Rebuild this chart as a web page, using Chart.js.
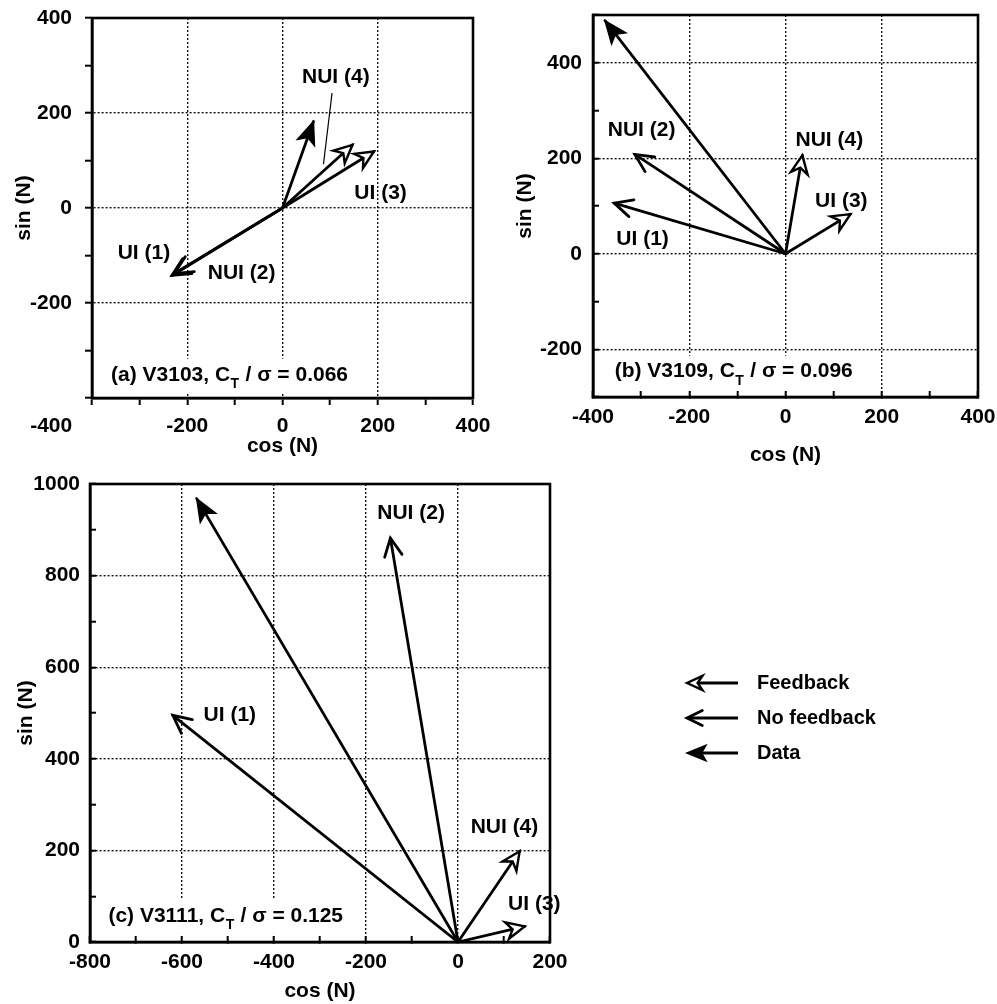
<!DOCTYPE html>
<html>
<head>
<meta charset="utf-8">
<script src="https://cdn.jsdelivr.net/npm/chart.js@4.4.1/dist/chart.umd.min.js"></script>
<style>
  html, body { margin: 0; padding: 0; background: #fff; }
  body { width: 997px; height: 1004px; position: relative; overflow: hidden; }
  canvas { position: absolute; }
</style>
</head>
<body>
<canvas id="panelA" width="500" height="470" style="left:0px;top:0px"></canvas>
<canvas id="panelB" width="497" height="475" style="left:500px;top:0px"></canvas>
<canvas id="panelC" width="997" height="534" style="left:0px;top:470px"></canvas>
<script>
// ---------- vector end points, cos (N) and sin (N) ----------
// (a) V3103
const aDataCos = [65];
const aDataSin = [182];
const aFeedbackCos = [192, 147];        // UI (3), NUI (4)
const aFeedbackSin = [119, 133];
const aNoFeedbackCos = [-232, -227];    // UI (1), NUI (2)
const aNoFeedbackSin = [-142, -138];

// (b) V3109
const bDataCos = [-375];
const bDataSin = [488];
const bFeedbackCos = [135, 35];         // UI (3), NUI (4)
const bFeedbackSin = [83, 206];
const bNoFeedbackCos = [-356, -313];    // UI (1), NUI (2)
const bNoFeedbackSin = [106, 208];

// (c) V3111
const cDataCos = [-568];
const cDataSin = [968];
const cFeedbackCos = [145, 134];        // UI (3), NUI (4)
const cFeedbackSin = [34, 198];
const cNoFeedbackCos = [-620, -147];    // UI (1), NUI (2)
const cNoFeedbackSin = [495, 882];

// ---------- vector names and where they are written (axis units) ----------
const vectorNames = ['UI (1)', 'NUI (2)', 'UI (3)', 'NUI (4)'];
const aNameCos = [-291, -86, 206, 112];
const aNameSin = [-95, -138, 32, 275];
const bNameCos = [-297, -299, 116, 91];
const bNameSin = [31, 258, 111, 237];
const cNameCos = [-496, -102, 166, 101];
const cNameSin = [496, 936, 83, 250];

// leader from the NUI (4) name to its vector in (a)
const aLeaderCos = [104, 86];
const aLeaderSin = [242, 92];

// ---------- run captions ----------
const captionRun = ['(a) V3103, C', '(b) V3109, C', '(c) V3111, C'];
const captionRatio = [' / σ = 0.066', ' / σ = 0.096', ' / σ = 0.125'];
const captionCos = [-360, -355, -760];
const captionSin = [-351, -247, 57];

// ---------- axis ranges and labelled ticks ----------
const aCosTicks = [-400, -200, 0, 200, 400];
const aSinTicks = [-200, 0, 200, 400];
const bCosTicks = [-400, -200, 0, 200, 400];
const bSinTicks = [-200, 0, 200, 400];
const cCosTicks = [-800, -600, -400, -200, 0, 200];
const cSinTicks = [0, 200, 400, 600, 800, 1000];

const legendNames = ['Feedback', 'No feedback', 'Data'];

// ---------- drawing helpers ----------
const FAMILY = "'Liberation Sans', Arial, Helvetica, sans-serif";
const INK = '#000';

function drawHead(ctx, tip, tail, style, len) {
  const back = Math.atan2(tail.y - tip.y, tail.x - tip.x);
  const pt = (a, l) => ({ x: tip.x + l * Math.cos(a), y: tip.y + l * Math.sin(a) });
  ctx.save();
  ctx.lineJoin = 'miter';
  ctx.lineCap = 'round';
  ctx.strokeStyle = INK;
  if (style === 'noFeedback') {
    const h = 26 * Math.PI / 180;
    const b1 = pt(back + h, len), b2 = pt(back - h, len);
    ctx.lineWidth = 2.8;
    ctx.beginPath();
    ctx.moveTo(b1.x, b1.y); ctx.lineTo(tip.x, tip.y); ctx.lineTo(b2.x, b2.y);
    ctx.stroke();
  } else if (style === 'feedback') {
    const h = 25 * Math.PI / 180;
    const b1 = pt(back + h, len), b2 = pt(back - h, len), n = pt(back, len * 0.62);
    ctx.lineWidth = 2.4;
    ctx.fillStyle = '#fff';
    ctx.beginPath();
    ctx.moveTo(tip.x, tip.y); ctx.lineTo(b1.x, b1.y); ctx.lineTo(n.x, n.y); ctx.lineTo(b2.x, b2.y);
    ctx.closePath();
    ctx.fill(); ctx.stroke();
  } else {
    const h = 22 * Math.PI / 180;
    const b1 = pt(back + h, len * 1.2), b2 = pt(back - h, len * 1.2), n = pt(back, len * 0.85);
    ctx.lineWidth = 1.5;
    ctx.fillStyle = INK;
    ctx.beginPath();
    ctx.moveTo(tip.x, tip.y); ctx.lineTo(b1.x, b1.y); ctx.lineTo(n.x, n.y); ctx.lineTo(b2.x, b2.y);
    ctx.closePath();
    ctx.fill(); ctx.stroke();
  }
  ctx.restore();
}

function vectors(cosArr, sinArr, style) {
  return cosArr.map((c, i) => ({
    data: [{ x: 0, y: 0 }, { x: c, y: sinArr[i] }],
    headStyle: style,
    showLine: true,
    borderColor: INK,
    borderWidth: 2.8,
    pointRadius: 0,
    pointHoverRadius: 0,
    borderCapStyle: 'round'
  }));
}

// arrowheads are placed at the tips of each vector dataset
const headPlugin = {
  id: 'vectorHeads',
  afterDatasetsDraw(chart) {
    const ctx = chart.ctx;
    chart.data.datasets.forEach((ds, i) => {
      const pts = chart.getDatasetMeta(i).data;
      drawHead(ctx, { x: pts[1].x, y: pts[1].y }, { x: pts[0].x, y: pts[0].y }, ds.headStyle, 20);
    });
  }
};

function decorPlugin(cfg) {
  return {
    id: 'panelDecor',
    beforeDatasetsDraw(chart) {
      const ctx = chart.ctx, xs = chart.scales.x, ys = chart.scales.y;
      const x0 = xs.getPixelForValue(cfg.captionCos), y0 = ys.getPixelForValue(cfg.captionSin);
      const big = 'bold 21px ' + FAMILY, small = 'bold 14px ' + FAMILY;
      ctx.save();
      ctx.font = big;
      const w1 = ctx.measureText(cfg.captionRun).width;
      const w3 = ctx.measureText(cfg.captionRatio).width;
      ctx.font = small;
      const w2 = ctx.measureText('T').width;
      ctx.fillStyle = '#fff';
      ctx.fillRect(x0 - 6, y0 - 16, w1 + w2 + w3 + 12, 34);
      ctx.fillStyle = INK;
      ctx.textBaseline = 'middle';
      ctx.textAlign = 'left';
      ctx.font = big;
      ctx.fillText(cfg.captionRun, x0, y0);
      ctx.font = small;
      ctx.fillText('T', x0 + w1 + 0.5, y0 + 9);
      ctx.font = big;
      ctx.fillText(cfg.captionRatio, x0 + w1 + w2 + 1, y0);
      ctx.restore();
    },
    afterDatasetsDraw(chart) {
      const ctx = chart.ctx, xs = chart.scales.x, ys = chart.scales.y;
      ctx.save();
      ctx.fillStyle = INK;
      ctx.font = 'bold 21px ' + FAMILY;
      ctx.textAlign = 'center';
      ctx.textBaseline = 'middle';
      cfg.names.forEach((t, i) => {
        ctx.fillText(t, xs.getPixelForValue(cfg.nameCos[i]), ys.getPixelForValue(cfg.nameSin[i]));
      });
      if (cfg.leaderCos) {
        ctx.strokeStyle = INK;
        ctx.lineWidth = 1.2;
        ctx.beginPath();
        ctx.moveTo(xs.getPixelForValue(cfg.leaderCos[0]), ys.getPixelForValue(cfg.leaderSin[0]));
        ctx.lineTo(xs.getPixelForValue(cfg.leaderCos[1]), ys.getPixelForValue(cfg.leaderSin[1]));
        ctx.stroke();
      }
      ctx.restore();
    },
    afterDraw(chart) {
      const ctx = chart.ctx, a = chart.chartArea;
      ctx.save();
      ctx.strokeStyle = INK;
      ctx.lineWidth = 2.6;
      ctx.strokeRect(a.left, a.top, a.right - a.left, a.bottom - a.top);
      if (cfg.legend) {
        const styles = ['feedback', 'noFeedback', 'data'];
        ctx.font = 'bold 20px ' + FAMILY;
        ctx.textAlign = 'left';
        ctx.textBaseline = 'middle';
        ctx.fillStyle = INK;
        cfg.legend.forEach((t, i) => {
          const y = 213 + i * 35;
          ctx.lineWidth = 2.8;
          ctx.beginPath();
          ctx.moveTo(690, y); ctx.lineTo(738, y);
          ctx.stroke();
          drawHead(ctx, { x: 687, y: y }, { x: 738, y: y }, styles[i], 17);
          ctx.fillText(t, 757, y);
        });
      }
      ctx.restore();
    }
  };
}

function axis(o) {
  return {
    type: 'linear',
    position: o.position,
    min: o.min,
    max: o.max,
    afterFit(scale) {
      // the plot frame is fixed by the layout padding alone
      if (o.position === 'bottom') scale.height = o.size; else scale.width = o.size;
      scale.paddingTop = 0; scale.paddingBottom = 0;
      scale.paddingLeft = 0; scale.paddingRight = 0;
    },
    ticks: {
      stepSize: 100,
      autoSkip: false,
      maxRotation: 0,
      minRotation: 0,
      padding: o.labelPad,
      color: INK,
      font: { family: FAMILY, size: 21, weight: 'bold' },
      callback(v) {
        if (!o.shown.includes(v)) return '';
        return o.relabel && o.relabel[v] !== undefined ? o.relabel[v] : String(v);
      }
    },
    grid: {
      color(ctx) {
        const v = ctx.tick ? ctx.tick.value : null;
        return (v !== null && v % 200 === 0 && v !== o.min && v !== o.max) ? '#111' : 'rgba(0,0,0,0)';
      },
      lineWidth: 1.4,
      drawTicks: true,
      tickLength: o.tickLen,
      tickWidth: 2,
      tickColor: INK
    },
    border: { display: true, color: INK, width: 2.6, dash: [2, 2] },
    title: {
      display: true,
      text: o.title,
      color: INK,
      font: { family: FAMILY, size: 21, weight: 'bold' },
      padding: o.position === 'bottom' ? { top: 0, bottom: 0 } : { top: o.titlePad, bottom: 0 }
    }
  };
}

function panel(id, layoutPad, xOpt, yOpt, datasets, decor) {
  return new Chart(document.getElementById(id), {
    type: 'scatter',
    data: { datasets },
    options: {
      responsive: false,
      animation: false,
      devicePixelRatio: 1,
      layout: { padding: layoutPad, autoPadding: false },
      plugins: { legend: { display: false }, tooltip: { enabled: false } },
      events: [],
      scales: { x: axis(xOpt), y: axis(yOpt) }
    },
    plugins: [decorPlugin(decor), headPlugin]
  });
}

// (a) V3103
panel('panelA', { left: 0, top: 18, right: 27, bottom: 11 },
  { position: 'bottom', min: -400, max: 400, shown: aCosTicks, size: 61, tickLen: 7, labelPad: 9,
    title: 'cos (N)', relabel: { '-400': '-400' + ' '.repeat(14) } },
  { position: 'left', min: -400, max: 400, shown: aSinTicks, size: 92, tickLen: 7, labelPad: 13,
    title: 'sin (N)', titlePad: 12 },
  [].concat(vectors(aNoFeedbackCos, aNoFeedbackSin, 'noFeedback'),
            vectors(aFeedbackCos, aFeedbackSin, 'feedback'),
            vectors(aDataCos, aDataSin, 'data')),
  { names: vectorNames, nameCos: aNameCos, nameSin: aNameSin,
    leaderCos: aLeaderCos, leaderSin: aLeaderSin,
    captionRun: captionRun[0], captionRatio: captionRatio[0],
    captionCos: captionCos[0], captionSin: captionSin[0] });

// (b) V3109
panel('panelB', { left: 0, top: 15, right: 19, bottom: 7 },
  { position: 'bottom', min: -400, max: 400, shown: bCosTicks, size: 71, tickLen: -6, labelPad: 14,
    title: 'cos (N)' },
  { position: 'left', min: -300, max: 500, shown: bSinTicks, size: 93, tickLen: -6, labelPad: 17,
    title: 'sin (N)', titlePad: 13 },
  [].concat(vectors(bNoFeedbackCos, bNoFeedbackSin, 'noFeedback'),
            vectors(bFeedbackCos, bFeedbackSin, 'feedback'),
            vectors(bDataCos, bDataSin, 'data')),
  { names: vectorNames, nameCos: bNameCos, nameSin: bNameSin,
    captionRun: captionRun[1], captionRatio: captionRatio[1],
    captionCos: captionCos[1], captionSin: captionSin[1] });

// (c) V3111, with the arrow key to its right
panel('panelC', { left: 0, top: 14, right: 447, bottom: 0 },
  { position: 'bottom', min: -800, max: 200, shown: cCosTicks, size: 62, tickLen: -6, labelPad: 14,
    title: 'cos (N)' },
  { position: 'left', min: 0, max: 1000, shown: cSinTicks, size: 90, tickLen: -6, labelPad: 16,
    title: 'sin (N)', titlePad: 14 },
  [].concat(vectors(cNoFeedbackCos, cNoFeedbackSin, 'noFeedback'),
            vectors(cFeedbackCos, cFeedbackSin, 'feedback'),
            vectors(cDataCos, cDataSin, 'data')),
  { names: vectorNames, nameCos: cNameCos, nameSin: cNameSin,
    captionRun: captionRun[2], captionRatio: captionRatio[2],
    captionCos: captionCos[2], captionSin: captionSin[2], legend: legendNames });
</script>
</body>
</html>
